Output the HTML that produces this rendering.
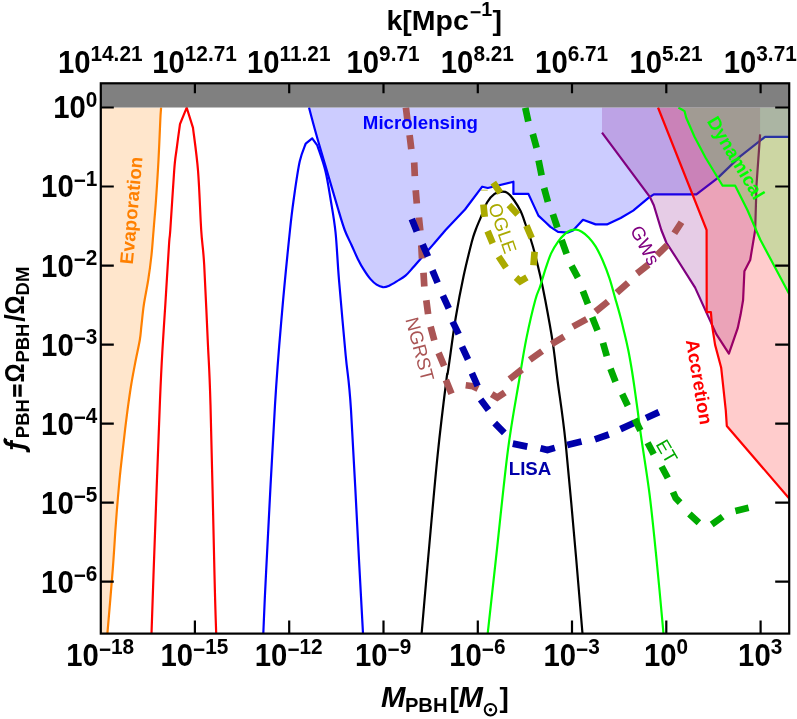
<!DOCTYPE html>
<html><head><meta charset="utf-8"><title>PBH constraints</title>
<style>
html,body{margin:0;padding:0;background:#fff}
svg{display:block;will-change:transform}
text{font-family:"Liberation Sans",sans-serif}
.b{font-weight:bold}
.t{font-weight:bold;font-size:29.3px;fill:#000}
.s{font-size:19px}
.l{font-size:18.67px}
</style></head><body>
<svg width="797" height="719" viewBox="0 0 797 719">
<rect width="797" height="719" fill="#fff"/>
<defs><clipPath id="c"><rect x="100.8" y="83.3" width="688.4" height="550.3"/></clipPath></defs>
<g clip-path="url(#c)" fill="none" stroke-linejoin="round">
<path d="M161.1,107.5 C161.0,109.6 160.7,111.2 160.3,120.0 C159.9,128.8 159.2,146.7 158.5,160.0 C157.8,173.3 156.8,188.3 156.0,200.0 C155.2,211.7 154.3,220.8 153.6,230.0 C152.8,239.2 152.4,246.7 151.5,255.0 C150.6,263.3 149.5,271.7 148.2,280.0 C146.9,288.3 144.9,297.5 143.8,305.0 C142.7,312.5 142.2,319.2 141.5,325.0 C140.8,330.8 140.9,333.6 139.8,340.0 C138.7,346.4 136.5,355.9 135.1,363.4 C133.7,370.9 132.3,378.0 131.2,384.8 C130.1,391.6 129.3,397.2 128.3,404.3 C127.3,411.4 126.3,419.6 125.3,427.7 C124.3,435.8 123.4,444.4 122.4,453.1 C121.4,461.8 120.3,471.4 119.5,480.0 C118.7,488.6 118.0,496.7 117.3,505.0 C116.6,513.3 116.2,519.4 115.4,530.0 C114.7,540.6 114.1,551.6 112.8,568.9 C111.5,586.2 108.3,622.8 107.4,633.6 L100.8,633.6 L100.8,107.5 Z" fill="#ff8000" fill-opacity="0.2" stroke="none"/>
<path d="M161.1,107.5 C161.0,109.6 160.7,111.2 160.3,120.0 C159.9,128.8 159.2,146.7 158.5,160.0 C157.8,173.3 156.8,188.3 156.0,200.0 C155.2,211.7 154.3,220.8 153.6,230.0 C152.8,239.2 152.4,246.7 151.5,255.0 C150.6,263.3 149.5,271.7 148.2,280.0 C146.9,288.3 144.9,297.5 143.8,305.0 C142.7,312.5 142.2,319.2 141.5,325.0 C140.8,330.8 140.9,333.6 139.8,340.0 C138.7,346.4 136.5,355.9 135.1,363.4 C133.7,370.9 132.3,378.0 131.2,384.8 C130.1,391.6 129.3,397.2 128.3,404.3 C127.3,411.4 126.3,419.6 125.3,427.7 C124.3,435.8 123.4,444.4 122.4,453.1 C121.4,461.8 120.3,471.4 119.5,480.0 C118.7,488.6 118.0,496.7 117.3,505.0 C116.6,513.3 116.2,519.4 115.4,530.0 C114.7,540.6 114.1,551.6 112.8,568.9 C111.5,586.2 108.3,622.8 107.4,633.6" stroke="#ff8000" stroke-width="2.2"/>
<path d="M309.0,107.5 C310.2,112.1 313.8,125.7 316.5,135.3 C319.2,145.0 321.8,153.3 325.3,165.4 C328.9,177.5 334.6,197.2 337.8,208.0 C341.0,218.8 342.4,223.8 344.7,230.0 C347.0,236.2 349.3,240.2 351.5,245.0 C353.7,249.8 355.7,254.7 357.8,258.9 C359.9,263.1 362.0,266.9 364.1,270.2 C366.2,273.5 368.2,276.5 370.3,278.9 C372.4,281.3 374.5,283.3 376.6,284.7 C378.7,286.1 380.8,287.0 382.9,287.2 C385.0,287.4 386.9,286.7 389.2,285.7 C391.5,284.7 394.0,283.1 396.7,281.4 C399.4,279.7 402.8,278.0 405.5,275.7 C408.2,273.4 410.5,270.4 413.0,267.6 C415.5,264.8 417.1,262.7 420.5,258.9 C423.9,255.1 428.9,249.4 433.1,244.6 C437.3,239.8 443.5,232.4 445.6,230.0 L445.6,230.0 L465.0,209.5 L482.2,186.7 L487.8,188.0 L513.4,181.7 L513.4,193.9 L528.4,193.9 L538.4,215.6 L545.0,221.7 L550.4,226.9 L558.0,231.9 L568.0,232.6 L573.0,230.6 L583.0,219.8 L595.6,224.4 L606.9,224.4 L620.7,218.0 L633.2,210.6 L648.8,197.7 L653.8,194.4 L696.4,194.4 L717.6,178.1 L740.2,156.4 L765.0,136.9 L789.2,136.9 L789.2,107.5 Z" fill="#0000ff" fill-opacity="0.2" stroke="none"/>
<path d="M309.0,107.5 C310.2,112.1 313.8,125.7 316.5,135.3 C319.2,145.0 321.8,153.3 325.3,165.4 C328.9,177.5 334.6,197.2 337.8,208.0 C341.0,218.8 342.4,223.8 344.7,230.0 C347.0,236.2 349.3,240.2 351.5,245.0 C353.7,249.8 355.7,254.7 357.8,258.9 C359.9,263.1 362.0,266.9 364.1,270.2 C366.2,273.5 368.2,276.5 370.3,278.9 C372.4,281.3 374.5,283.3 376.6,284.7 C378.7,286.1 380.8,287.0 382.9,287.2 C385.0,287.4 386.9,286.7 389.2,285.7 C391.5,284.7 394.0,283.1 396.7,281.4 C399.4,279.7 402.8,278.0 405.5,275.7 C408.2,273.4 410.5,270.4 413.0,267.6 C415.5,264.8 417.1,262.7 420.5,258.9 C423.9,255.1 428.9,249.4 433.1,244.6 C437.3,239.8 443.5,232.4 445.6,230.0 L445.6,230.0 L465.0,209.5 L482.2,186.7 L487.8,188.0 L513.4,181.7 L513.4,193.9 L528.4,193.9 L538.4,215.6 L545.0,221.7 L550.4,226.9 L558.0,231.9 L568.0,232.6 L573.0,230.6 L583.0,219.8 L595.6,224.4 L606.9,224.4 L620.7,218.0 L633.2,210.6 L648.8,197.7 L653.8,194.4 L696.4,194.4 L717.6,178.1 L740.2,156.4 L765.0,136.9 L789.2,136.9" stroke="#0000ff" stroke-width="2.2"/>
<path d="M151.5,633.6 C151.8,623.8 152.1,613.9 153.5,575.0 C154.9,536.1 158.4,438.5 160.0,400.0 C161.6,361.5 161.9,359.8 162.8,344.0 C163.7,328.2 164.3,321.5 165.3,305.0 C166.3,288.5 168.2,257.5 169.0,245.0 C169.8,232.5 169.4,242.4 170.3,230.0 C171.2,217.6 173.2,183.7 174.2,170.4 C175.2,157.1 175.5,157.7 176.5,150.0 C177.5,142.3 179.4,128.3 180.0,124.0 L186.7,107.7 L193.0,127.8 C193.8,134.9 196.6,153.4 198.0,170.4 C199.4,187.4 200.2,214.2 201.2,230.0 C202.2,245.8 203.1,246.0 204.2,265.0 C205.3,284.0 206.8,320.7 207.9,344.0 C209.0,367.3 209.4,366.5 210.5,405.0 C211.6,443.5 213.6,536.9 214.5,575.0 C215.4,613.1 215.9,623.8 216.2,633.6" stroke="#ff0000" stroke-width="2.2" stroke-linejoin="miter"/>
<path d="M263.3,633.6 C263.8,623.0 264.2,608.1 266.2,570.0 C268.1,531.9 272.4,447.9 275.0,405.0 C277.6,362.1 279.5,342.0 282.0,312.8 C284.5,283.6 288.0,249.1 290.0,230.0 C292.0,210.9 292.3,209.4 293.9,198.0 C295.5,186.6 297.7,170.7 299.7,161.6 C301.7,152.5 304.7,146.6 305.7,143.6 L312.2,138.3 L317.3,145.3 C318.6,149.5 323.1,161.2 325.3,170.4 C327.6,179.6 329.1,190.2 330.8,200.5 C332.5,210.8 334.1,218.8 335.5,232.0 C336.9,245.2 337.3,259.4 339.0,280.0 C340.7,300.6 343.7,333.8 345.7,355.5 C347.7,377.2 348.8,375.9 351.0,410.0 C353.2,444.1 357.0,522.7 359.0,560.0 C361.0,597.3 362.3,621.3 363.0,633.6" stroke="#0000ff" stroke-width="2.2"/>
<path d="M421.6,633.6 C422.7,621.3 425.3,589.7 428.0,560.0 C430.7,530.3 434.5,485.3 437.6,455.3 C440.7,425.3 444.6,394.1 446.4,380.0 C448.1,365.9 446.6,380.9 448.1,370.5 C449.7,360.1 453.1,333.5 455.7,317.8 C458.3,302.1 460.8,289.1 463.5,276.5 C466.2,263.9 469.7,250.1 471.7,242.3 C473.7,234.6 474.1,234.1 475.6,230.0 C477.1,225.9 478.7,222.4 480.6,217.8 C482.5,213.2 484.9,206.2 487.2,202.2 C489.5,198.2 492.2,195.6 494.5,193.9 C496.8,192.2 498.9,192.0 501.0,191.8 C503.1,191.6 505.2,191.4 507.3,192.8 C509.4,194.2 511.7,196.9 513.9,200.0 C516.1,203.1 518.6,207.0 520.6,211.1 C522.6,215.2 523.9,219.8 525.6,224.5 C527.3,229.2 529.1,234.4 530.6,239.0 C532.1,243.6 532.9,246.0 534.5,252.3 C536.1,258.6 538.6,268.6 540.4,276.6 C542.2,284.6 543.2,289.2 545.3,300.3 C547.4,311.4 550.8,329.6 552.8,342.9 C554.8,356.2 555.4,363.4 557.5,380.0 C559.6,396.6 562.5,412.7 565.6,442.7 C568.7,472.7 573.5,528.2 576.3,560.0 C579.1,591.8 581.5,621.3 582.5,633.6" stroke="#000" stroke-width="2.2"/>
<path d="M487.7,633.6 C489.1,621.3 492.4,590.5 495.8,560.0 C499.2,529.5 504.0,480.3 507.9,450.3 C511.8,420.3 516.1,398.7 519.2,380.0 C522.3,361.3 523.8,351.2 526.5,337.9 C529.2,324.6 533.0,308.5 535.3,300.0 C537.5,291.5 538.3,292.0 540.0,286.8 C541.7,281.6 543.8,274.3 545.6,268.7 C547.5,263.1 549.0,257.9 551.1,253.4 C553.2,248.9 555.8,244.8 558.1,241.6 C560.4,238.3 562.9,235.8 565.0,233.9 C567.1,232.0 568.7,231.1 570.6,230.4 C572.5,229.7 574.4,229.5 576.2,229.7 C578.1,229.9 579.6,230.5 581.7,231.8 C583.8,233.1 586.4,235.0 588.7,237.4 C591.0,239.8 593.3,242.6 595.6,246.4 C597.9,250.2 600.3,255.0 602.6,260.3 C604.9,265.6 607.4,272.1 609.5,278.4 C611.6,284.7 613.3,291.6 615.1,297.9 C616.9,304.2 618.7,310.2 620.2,316.1 C621.8,322.0 623.0,327.3 624.4,333.0 C625.8,338.7 627.1,344.4 628.3,350.2 C629.5,356.0 630.5,362.0 631.5,368.0 C632.5,374.0 633.3,379.4 634.3,386.4 C635.3,393.4 636.5,401.9 637.6,410.0 C638.7,418.1 638.9,421.0 640.9,435.2 C642.9,449.4 647.1,474.6 649.7,495.4 C652.3,516.2 654.3,537.0 656.6,560.0 C658.9,583.0 662.4,621.3 663.5,633.6" stroke="#00ff00" stroke-width="2.2"/>
<path d="M602.0,107.5 L602.0,132.6 L650.0,197.2 L653.8,205.2 L661.3,230.0 L666.3,242.5 L677.6,260.0 L695.1,287.6 L710.9,322.4 L716.3,334.1 L728.9,353.6 L737.7,328.2 L740.6,314.6 L743.1,300.0 L744.4,271.3 L750.2,260.0 L755.2,230.0 L756.5,185.2 L760.1,134.4 L760.1,107.5 Z" fill="#800080" fill-opacity="0.2" stroke="none"/>
<path d="M602.0,132.6 L650.0,197.2 L653.8,205.2 L661.3,230.0 L666.3,242.5 L677.6,260.0 L695.1,287.6 L710.9,322.4 L716.3,334.1 L728.9,353.6 L737.7,328.2 L740.6,314.6 L743.1,300.0 L744.4,271.3 L750.2,260.0 L755.2,230.0 L756.5,185.2 L760.1,134.4" stroke="#800080" stroke-width="2.2"/>
<path d="M658.0,107.5 L706.6,230.0 L706.7,312.2 L710.9,312.2 L711.9,324.3 L715.1,344.9 L721.2,367.8 L723.5,389.2 L725.8,410.6 L726.8,426.0 L789.2,498.5 L789.2,107.5 Z" fill="#ff0000" fill-opacity="0.2" stroke="none"/>
<path d="M658.0,107.5 L706.6,230.0 L706.7,312.2 L710.9,312.2 L711.9,324.3 L715.1,344.9 L721.2,367.8 L723.5,389.2 L725.8,410.6 L726.8,426.0 L789.2,498.5" stroke="#ff0000" stroke-width="2.2"/>
<path d="M678.4,107.5 L684.5,111.1 L686.2,117.8 L694.5,136.7 L705.6,157.8 L722.6,185.7 L735.2,185.7 L747.4,210.0 L760.2,239.5 L789.2,294.0 L789.2,107.5 Z" fill="#00ff00" fill-opacity="0.2" stroke="none"/>
<path d="M678.4,107.5 L684.5,111.1 L686.2,117.8 L694.5,136.7 L705.6,157.8 L722.6,185.7 L735.2,185.7 L747.4,210.0 L760.2,239.5 L789.2,294.0" stroke="#00ff00" stroke-width="2.2"/>
<path d="M405.9,107.7 L407.6,121.4 M409.6,135.2 L411.3,149.1 M414.2,162.5 L414.8,176.1 M415.7,190.3 L416.8,203.5 M418.9,217.5 L420.3,230.7 M421.3,245.3 L422.0,258.5 M423.5,272.7 L424.3,286.5 M426.3,300.3 L428.1,314.1 M430.6,326.6 L434.3,340.4 M438.6,352.9 L444.1,366.0 M445.9,380.0 L451.5,393.8 M465.7,385.3 L472.7,386.2 L478.0,388.8 M491.7,394.1 L497.3,397.6 L504.8,392.4 M509.6,379.2 L521.9,369.5 M529.8,359.9 L542.1,351.1 M551.6,344.2 L564.1,336.6 M572.9,326.6 L586.7,319.1 M595.5,311.6 L608.0,301.5 M616.8,292.7 L628.1,282.7 M637.0,273.5 L648.5,264.5 M657.0,255.2 L667.3,245.1 M674.3,233.3 L681.5,222.2" stroke="#aa5555" stroke-width="6.7" stroke-linejoin="miter" stroke-linecap="butt"/>
<path d="M411.8,219.0 L416.8,231.5 M422.6,244.3 L428.0,256.5 M432.4,270.4 L437.6,282.8 M442.9,295.7 L448.8,308.4 M452.6,321.6 L458.7,334.1 M462.0,346.7 L468.0,359.5 M471.9,373.2 L477.6,386.0 M480.6,399.4 L488.5,409.9 M494.7,423.1 L504.3,432.8 M512.8,443.6 L527.3,446.6 M540.5,448.3 L547.4,450.0 L554.8,447.9 M567.2,445.1 L581.5,441.5 M594.9,439.4 L608.8,434.5 M620.5,429.1 L634.4,422.7 M646.1,418.0 L658.9,412.1" stroke="#0000aa" stroke-width="6.7" stroke-linejoin="miter" stroke-linecap="butt"/>
<path d="M525.3,107.7 L528.3,121.5 M532.8,134.0 L536.6,147.8 M538.6,160.4 L541.6,175.4 M544.1,188.0 L547.9,201.8 M552.9,214.3 L557.4,227.6 M561.6,240.0 L566.6,253.8 M571.6,265.9 L577.9,277.7 M582.9,291.0 L587.9,304.0 M592.2,317.3 L597.5,330.4 M603.0,342.9 L606.8,356.2 M610.5,368.8 L615.5,381.8 M622.2,394.0 L627.8,405.8 M634.7,418.9 L640.4,430.5 M647.6,442.8 L653.7,454.3 M661.6,466.5 L667.8,478.0 M673.0,492.0 L675.7,498.2 L680.1,502.6 M689.4,514.0 L698.9,522.8 M711.7,524.5 L722.7,516.6 M735.4,511.0 L748.6,507.8" stroke="#00aa00" stroke-width="6.7" stroke-linejoin="miter" stroke-linecap="butt"/>
<path d="M493.3,182.6 L500.3,192.9 M508.9,205.0 L517.8,214.5 M526.4,225.6 L531.7,238.0 M534.6,251.7 L533.5,265.2 M526.9,277.4 L520.1,281.3 L516.0,277.6 M506.0,267.6 L498.6,256.5 M492.7,243.4 L487.6,231.1 M484.7,216.9 L483.4,204.5 M484.4,190.6 L484.4,189.7" stroke="#aaaa00" stroke-width="6.7" stroke-linejoin="miter" stroke-linecap="butt"/>
</g>
<rect x="100.8" y="83.3" width="688.4" height="24.2" fill="#808080"/>
<text class="l b" fill="#ff8000" text-anchor="middle" transform="translate(137.7,211.0) rotate(-84.8)">Evaporation</text>
<text class="l b" fill="#0000ff" text-anchor="middle" transform="translate(420.4,128.7) rotate(0.0)">Microlensing</text>
<text class="l" fill="#aaaa00" text-anchor="middle" transform="translate(496.4,230.3) rotate(71.0)">OGLE</text>
<text class="l" fill="#aa5555" text-anchor="middle" transform="translate(413.6,350.7) rotate(75.0)">NGRST</text>
<text class="l" fill="#800080" text-anchor="middle" transform="translate(639.5,248.4) rotate(62.0)">GWs</text>
<text class="l b" fill="#ff0000" text-anchor="middle" transform="translate(692.9,383.0) rotate(80.4)">Accretion</text>
<text class="l b" fill="#00ff00" text-anchor="middle" transform="translate(730.5,161.2) rotate(59.0)">Dynamical</text>
<text class="l" fill="#00aa00" text-anchor="middle" transform="translate(661.2,454.6) rotate(60.0)">ET</text>
<text class="l b" fill="#0000aa" text-anchor="middle" transform="translate(530.0,474.5) rotate(0.0)">LISA</text>
<g stroke="#000" stroke-width="2.2" fill="none">
<rect x="100.8" y="83.3" width="688.4" height="550.3"/>
<path d="M194.9,633.6 v-13 M194.9,83.3 v10 M289.2,633.6 v-13 M289.2,83.3 v10 M383.5,633.6 v-13 M383.5,83.3 v10 M477.8,633.6 v-13 M477.8,83.3 v10 M572.0,633.6 v-13 M572.0,83.3 v10 M666.3,633.6 v-13 M666.3,83.3 v10 M760.6,633.6 v-13 M760.6,83.3 v10 M100.8,107.5 h13 M789.2,107.5 h-14 M100.8,186.5 h13 M789.2,186.5 h-14 M100.8,265.6 h13 M789.2,265.6 h-14 M100.8,344.6 h13 M789.2,344.6 h-14 M100.8,423.6 h13 M789.2,423.6 h-14 M100.8,502.6 h13 M789.2,502.6 h-14 M100.8,581.7 h13 M789.2,581.7 h-14"/>
</g>
<g transform="translate(90.5,72.8) scale(1,1.05)"><text class="t" text-anchor="end">10</text><text class="b" font-size="20.8" y="-11.2">14.21</text></g>
<g transform="translate(98.9,665.7) scale(1,1.05)"><text class="t" text-anchor="end">10</text><text class="b" font-size="20.8" y="-11.2"><tspan dy="2.5">−</tspan><tspan dy="-2.5">18</tspan></text></g>
<g transform="translate(184.8,72.8) scale(1,1.05)"><text class="t" text-anchor="end">10</text><text class="b" font-size="20.8" y="-11.2">12.71</text></g>
<g transform="translate(193.1,665.7) scale(1,1.05)"><text class="t" text-anchor="end">10</text><text class="b" font-size="20.8" y="-11.2"><tspan dy="2.5">−</tspan><tspan dy="-2.5">15</tspan></text></g>
<g transform="translate(279.6,72.8) scale(1,1.05)"><text class="t" text-anchor="end">10</text><text class="b" font-size="20.8" y="-11.2">11.21</text></g>
<g transform="translate(287.4,665.7) scale(1,1.05)"><text class="t" text-anchor="end">10</text><text class="b" font-size="20.8" y="-11.2"><tspan dy="2.5">−</tspan><tspan dy="-2.5">12</tspan></text></g>
<g transform="translate(379.1,72.8) scale(1,1.05)"><text class="t" text-anchor="end">10</text><text class="b" font-size="20.8" y="-11.2">9.71</text></g>
<g transform="translate(387.5,665.7) scale(1,1.05)"><text class="t" text-anchor="end">10</text><text class="b" font-size="20.8" y="-11.2"><tspan dy="2.5">−</tspan><tspan dy="-2.5">9</tspan></text></g>
<g transform="translate(473.4,72.8) scale(1,1.05)"><text class="t" text-anchor="end">10</text><text class="b" font-size="20.8" y="-11.2">8.21</text></g>
<g transform="translate(481.8,665.7) scale(1,1.05)"><text class="t" text-anchor="end">10</text><text class="b" font-size="20.8" y="-11.2"><tspan dy="2.5">−</tspan><tspan dy="-2.5">6</tspan></text></g>
<g transform="translate(567.7,72.8) scale(1,1.05)"><text class="t" text-anchor="end">10</text><text class="b" font-size="20.8" y="-11.2">6.71</text></g>
<g transform="translate(576.1,665.7) scale(1,1.05)"><text class="t" text-anchor="end">10</text><text class="b" font-size="20.8" y="-11.2"><tspan dy="2.5">−</tspan><tspan dy="-2.5">3</tspan></text></g>
<g transform="translate(662.0,72.8) scale(1,1.05)"><text class="t" text-anchor="end">10</text><text class="b" font-size="20.8" y="-11.2">5.21</text></g>
<g transform="translate(676.5,665.7) scale(1,1.05)"><text class="t" text-anchor="end">10</text><text class="b" font-size="20.8" y="-11.2">0</text></g>
<g transform="translate(756.3,72.8) scale(1,1.05)"><text class="t" text-anchor="end">10</text><text class="b" font-size="20.8" y="-11.2">3.71</text></g>
<g transform="translate(770.7,665.7) scale(1,1.05)"><text class="t" text-anchor="end">10</text><text class="b" font-size="20.8" y="-11.2">3</text></g>
<g transform="translate(85.8,118.4) scale(1,1.05)"><text class="t" text-anchor="end">10</text><text class="b" font-size="20.8" y="-11.2">0</text></g>
<g transform="translate(73.7,197.4) scale(1,1.05)"><text class="t" text-anchor="end">10</text><text class="b" font-size="20.8" y="-11.2"><tspan dy="2.5">−</tspan><tspan dy="-2.5">1</tspan></text></g>
<g transform="translate(73.7,276.5) scale(1,1.05)"><text class="t" text-anchor="end">10</text><text class="b" font-size="20.8" y="-11.2"><tspan dy="2.5">−</tspan><tspan dy="-2.5">2</tspan></text></g>
<g transform="translate(73.7,355.5) scale(1,1.05)"><text class="t" text-anchor="end">10</text><text class="b" font-size="20.8" y="-11.2"><tspan dy="2.5">−</tspan><tspan dy="-2.5">3</tspan></text></g>
<g transform="translate(73.7,434.5) scale(1,1.05)"><text class="t" text-anchor="end">10</text><text class="b" font-size="20.8" y="-11.2"><tspan dy="2.5">−</tspan><tspan dy="-2.5">4</tspan></text></g>
<g transform="translate(73.7,513.5) scale(1,1.05)"><text class="t" text-anchor="end">10</text><text class="b" font-size="20.8" y="-11.2"><tspan dy="2.5">−</tspan><tspan dy="-2.5">5</tspan></text></g>
<g transform="translate(73.7,592.6) scale(1,1.05)"><text class="t" text-anchor="end">10</text><text class="b" font-size="20.8" y="-11.2"><tspan dy="2.5">−</tspan><tspan dy="-2.5">6</tspan></text></g>
<text class="b" font-size="28.5" x="386.4" y="29.5">k[Mpc</text>
<text class="b" font-size="19.7" x="469.8" y="16.0"><tspan dy="2.7">−</tspan><tspan dy="-2.7">1</tspan></text>
<text class="b" font-size="28.5" x="492.5" y="29.5">]</text>
<text class="b" font-size="29.3" x="381.0" y="707.4" font-style="italic">M</text>
<text textLength="42.6" lengthAdjust="spacingAndGlyphs" class="b" font-size="19.3" x="404.9" y="712.4">PBH</text>
<text class="b" font-size="28" x="449.6" y="707.4">[</text>
<text class="b" font-size="29.3" x="458.5" y="707.4" font-style="italic">M</text>
<circle cx="490.5" cy="709.7" r="5.8" fill="none" stroke="#000" stroke-width="2"/><circle cx="490.5" cy="709.7" r="1.7" fill="#000"/>
<text class="b" font-size="28" x="499.6" y="707.4">]</text>
<g transform="rotate(-90)">
<text class="b" font-size="18.5" x="-438.2" y="29.2">PBH</text>
<text textLength="19" lengthAdjust="spacingAndGlyphs" class="b" font-size="27" x="-382.4" y="23.7">Ω</text>
<text class="b" font-size="18.5" x="-362.6" y="29.2">PBH</text>
<text class="b" font-size="27" x="-321.8" y="23.7">/</text>
<text textLength="19" lengthAdjust="spacingAndGlyphs" class="b" font-size="27" x="-314.6" y="23.7">Ω</text>
<text class="b" font-size="18.5" x="-295.4" y="29.2">DM</text>
</g>
<path d="M13.1,384.6h3.1v12.2h-3.1z M18.5,384.6h3.2v12.2h-3.2z" fill="#000"/>
<path d="M5.9,438.5 C4.3,440.6 5.3,443.2 8.6,444 L25,447.3 C27.6,447.9 28.6,449.2 28.2,452.4" fill="none" stroke="#000" stroke-width="3.6"/>
<path d="M11.5,440.1 V449.2" fill="none" stroke="#000" stroke-width="2.8"/>
</svg></body></html>
